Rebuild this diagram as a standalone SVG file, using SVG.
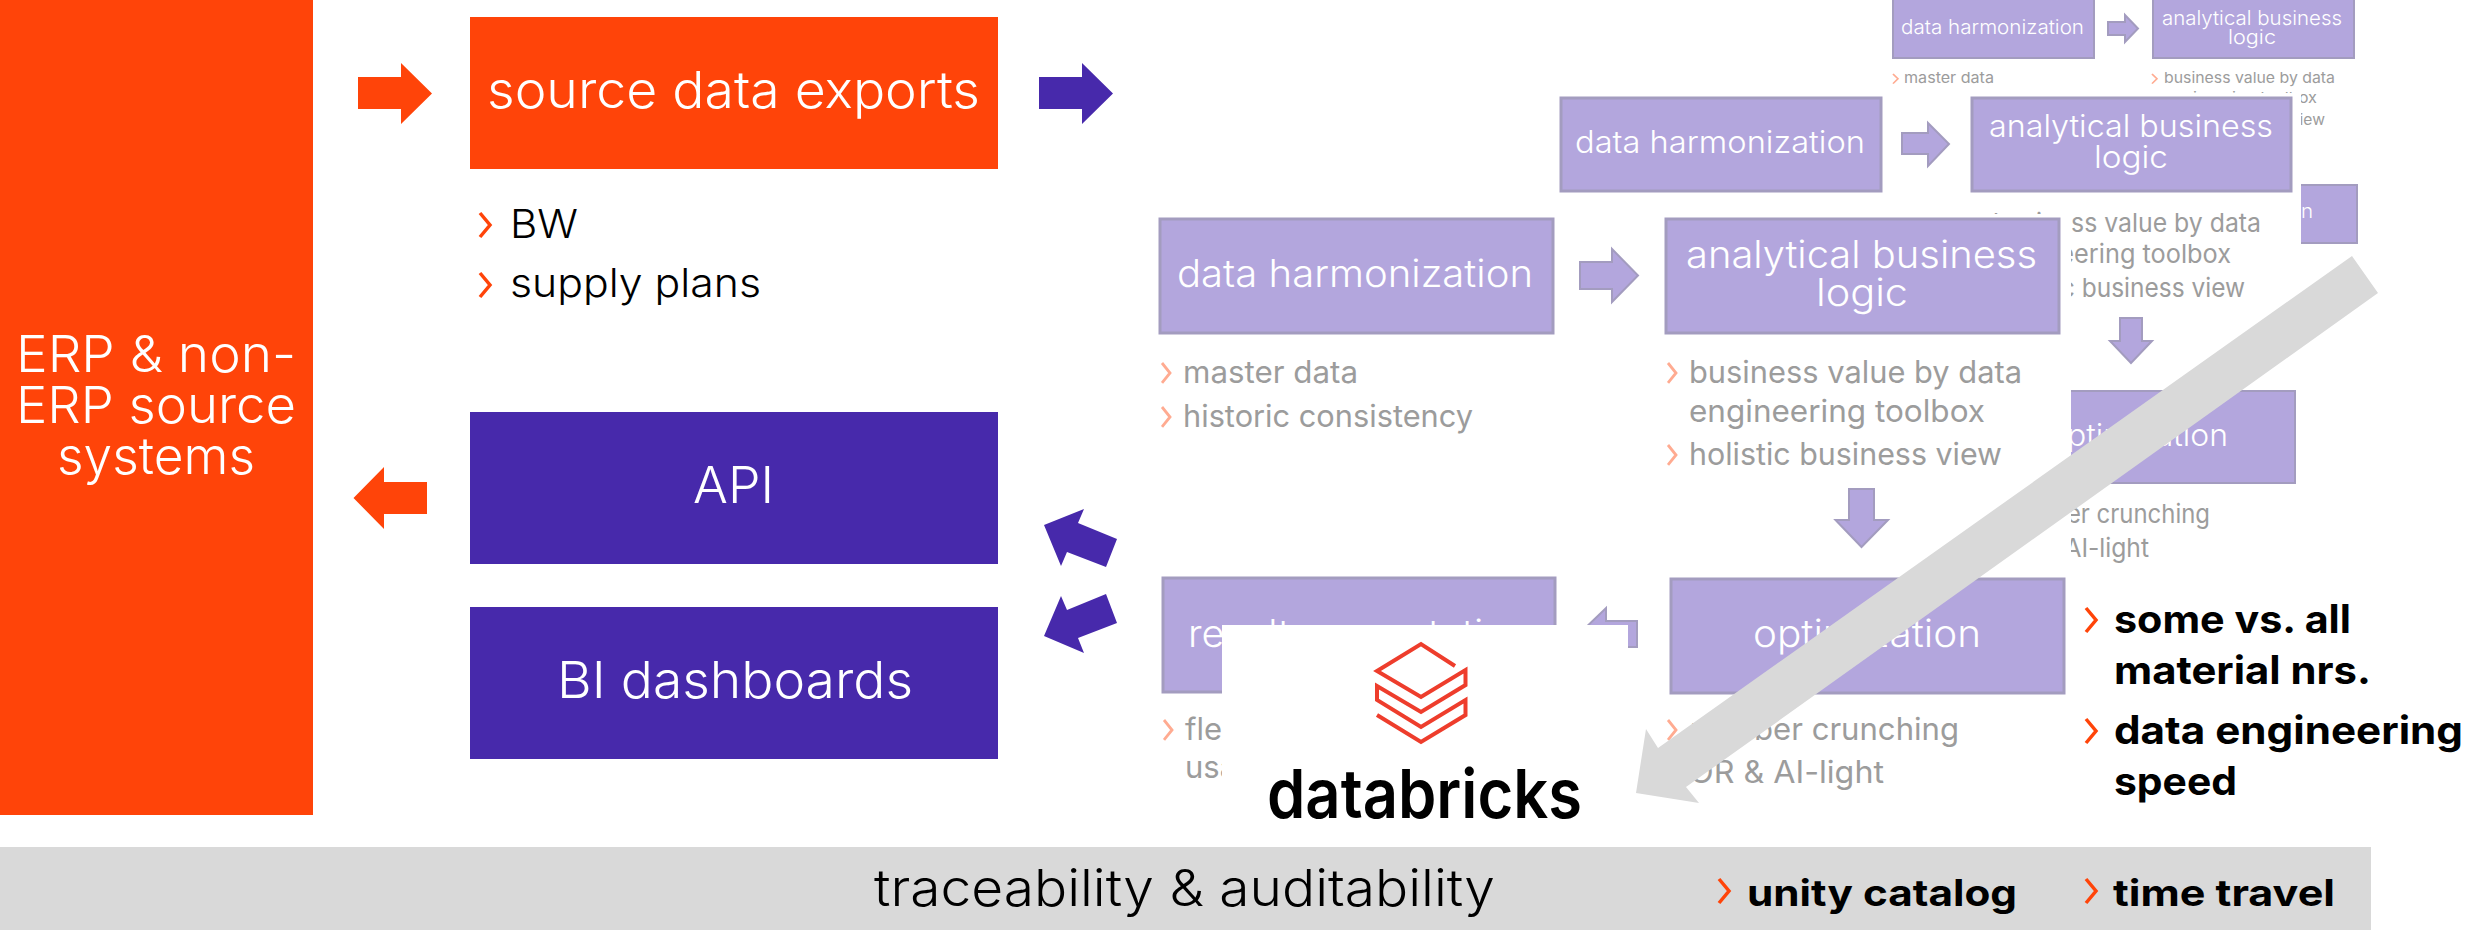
<svg xmlns="http://www.w3.org/2000/svg" width="2468" height="930" viewBox="0 0 2468 930">
<style>
text{font-family:Inter,"Noto Sans",sans-serif;font-weight:300;}
.w{fill:#fff}.k{fill:#000}.g{fill:#9c9c9c;font-weight:400}
.b{fill:#000;font-weight:700}
.s48{font-size:51px}.s38{font-size:40px}.s36{font-size:38px}.s30{font-size:31px}.s19{font-size:20px}.s15{font-size:15px}.s26{font-size:26px}.s37{font-size:37px}.s39{font-size:39px}
.box{fill:#b3a6dd;stroke:#a39cbf;stroke-width:3}
.boxs{fill:#b3a6dd;stroke:#a39cbf;stroke-width:2}
.or{fill:#ff4409}.pu{fill:#4729ab}.gr{fill:#d9d9d9}.mask{fill:#fff}
.chev{fill:none;stroke:#ff4409;stroke-width:3.500}
.fade{fill:none;stroke:#ffab91;stroke-width:3.500}
</style>
<defs><path id="c" d="M0,0L10,12L0,24"/></defs>
<rect width="2468" height="930" fill="#fff"/>

<g id="band"><rect class="gr" x="0" y="847" width="2371" height="83"/>
<text class="k s48" x="874" y="906" textLength="621" lengthAdjust="spacingAndGlyphs">traceability &amp; auditability</text>
<use href="#c" class="chev" x="1719" y="879"/><text class="b s37" x="1747" y="906" textLength="270" lengthAdjust="spacingAndGlyphs">unity catalog</text>
<use href="#c" class="chev" x="2086" y="879"/><text class="b s37" x="2113" y="906" textLength="222" lengthAdjust="spacingAndGlyphs">time travel</text></g>

<g id="erp"><rect class="or" x="0" y="0" width="313" height="815"/>
<text class="w s48" x="16" y="372" textLength="280" lengthAdjust="spacingAndGlyphs">ERP &amp; non-</text>
<text class="w s48" x="16" y="423" textLength="280" lengthAdjust="spacingAndGlyphs">ERP source</text>
<text class="w s48" x="57" y="474" textLength="198" lengthAdjust="spacingAndGlyphs">systems</text></g>

<g id="source"><rect class="or" x="470" y="17" width="528" height="152"/>
<text class="w s48" x="487" y="108" textLength="493" lengthAdjust="spacingAndGlyphs">source data exports</text>
<use href="#c" class="chev" x="480" y="213"/><text class="k s38" x="510" y="238" textLength="68" lengthAdjust="spacingAndGlyphs">BW</text>
<use href="#c" class="chev" x="480" y="273"/><text class="k s38" x="510" y="297" textLength="251" lengthAdjust="spacingAndGlyphs">supply plans</text></g>

<g id="api"><rect class="pu" x="470" y="412" width="528" height="152"/>
<text class="w s48" x="693" y="503" textLength="81" lengthAdjust="spacingAndGlyphs">API</text></g>
<g id="bi"><rect class="pu" x="470" y="607" width="528" height="152"/>
<text class="w s48" x="557" y="698" textLength="356" lengthAdjust="spacingAndGlyphs">BI dashboards</text></g>

<g id="layer-back">
<rect class="boxs" x="1893" y="-3" width="201" height="61"/>
<text class="w s19" x="1901" y="34" textLength="183" lengthAdjust="spacingAndGlyphs">data harmonization</text>
<polygon class="boxs" points="2108,22 2125,22 2125,15 2138,28.500 2125,42 2125,35 2108,35"/>
<rect class="boxs" x="2153" y="-3" width="201" height="61"/>
<text class="w s19" x="2162" y="25" textLength="180" lengthAdjust="spacingAndGlyphs">analytical business</text>
<text class="w s19" x="2228" y="44" textLength="48" lengthAdjust="spacingAndGlyphs">logic</text>
<use href="#c" class="fade" transform="translate(1893,74) scale(.5,.4)"/><text class="g s15" x="1904" y="83" textLength="90" lengthAdjust="spacingAndGlyphs">master data</text>
<use href="#c" class="fade" transform="translate(2152,74) scale(.5,.4)"/><text class="g s15" x="2164" y="83" textLength="171" lengthAdjust="spacingAndGlyphs">business value by data</text>
<text class="g s15" x="2164" y="103" textLength="153" lengthAdjust="spacingAndGlyphs">engineering toolbox</text>
<text class="g s15" x="2164" y="125" textLength="161" lengthAdjust="spacingAndGlyphs">holistic business view</text>
<rect class="boxs" x="2160" y="185" width="197" height="58"/>
<text class="w s19" x="2197" y="218" textLength="116" lengthAdjust="spacingAndGlyphs">optimization</text>
</g>
<rect class="mask" x="1540" y="93" width="761" height="501"/>

<g id="layer-mid">
<rect class="box" x="1561" y="98" width="320" height="93"/>
<text class="w s30" x="1575" y="153" textLength="290" lengthAdjust="spacingAndGlyphs">data harmonization</text>
<polygon class="boxs" points="1902,133 1928,133 1928,123 1949,144 1928,166 1928,154 1902,154"/>
<rect class="box" x="1972" y="98" width="319" height="93"/>
<text class="w s30" x="1989" y="137" textLength="284" lengthAdjust="spacingAndGlyphs">analytical business</text>
<text class="w s30" x="2094" y="168" textLength="74" lengthAdjust="spacingAndGlyphs">logic</text>
<text class="g s26" x="1993" y="232" textLength="268" lengthAdjust="spacingAndGlyphs">business value by data</text>
<text class="g s26" x="1993" y="263" textLength="238" lengthAdjust="spacingAndGlyphs">engineering toolbox</text>
<text class="g s26" x="1993" y="297" textLength="252" lengthAdjust="spacingAndGlyphs">holistic business view</text>
<polygon class="boxs" points="2120,318 2142,318 2142,341 2152,341 2131,363 2110,341 2120,341"/>
<rect class="boxs" x="1976" y="391" width="319" height="92"/>
<text class="w s30" x="2048" y="446" textLength="180" lengthAdjust="spacingAndGlyphs">optimization</text>
<text class="g s26" x="2003" y="523" textLength="207" lengthAdjust="spacingAndGlyphs">number crunching</text>
<text class="g s26" x="2000" y="557" textLength="149" lengthAdjust="spacingAndGlyphs">OR &amp; AI-light</text>
</g>
<rect class="mask" x="1140" y="214" width="931" height="627"/>

<g id="layer-front">
<g id="harmonization"><rect class="box" x="1160" y="219" width="393" height="114"/>
<text class="w s36" x="1177" y="287" textLength="356" lengthAdjust="spacingAndGlyphs">data harmonization</text>
<use href="#c" class="fade" transform="translate(1162,363) scale(.8,.83)"/><text class="g s30" x="1183" y="383" textLength="175" lengthAdjust="spacingAndGlyphs">master data</text>
<use href="#c" class="fade" transform="translate(1162,407) scale(.8,.83)"/><text class="g s30" x="1183" y="427" textLength="290" lengthAdjust="spacingAndGlyphs">historic consistency</text></g>
<polygon class="boxs" points="1580,262 1612,262 1612,249 1638,275.500 1612,302 1612,289 1580,289"/>
<g id="analytical"><rect class="box" x="1666" y="219" width="393" height="114"/>
<text class="w s36" x="1686" y="268" textLength="351" lengthAdjust="spacingAndGlyphs">analytical business</text>
<text class="w s36" x="1816" y="306" textLength="92" lengthAdjust="spacingAndGlyphs">logic</text>
<use href="#c" class="fade" transform="translate(1668,363) scale(.8,.83)"/><text class="g s30" x="1689" y="383" textLength="333" lengthAdjust="spacingAndGlyphs">business value by data</text>
<text class="g s30" x="1689" y="422" textLength="296" lengthAdjust="spacingAndGlyphs">engineering toolbox</text>
<use href="#c" class="fade" transform="translate(1668,445) scale(.8,.83)"/><text class="g s30" x="1689" y="465" textLength="313" lengthAdjust="spacingAndGlyphs">holistic business view</text></g>
<polygon class="boxs" points="1849,489 1874,489 1874,520 1888,520 1861.500,547 1835.500,520 1849,520"/>
<g id="optimization"><rect class="box" x="1671" y="579" width="393" height="114"/>
<text class="w s36" x="1753" y="647" textLength="228" lengthAdjust="spacingAndGlyphs">optimization</text>
<use href="#c" class="fade" transform="translate(1668,720) scale(.8,.83)"/><text class="g s30" x="1690" y="740" textLength="269" lengthAdjust="spacingAndGlyphs">number crunching</text>
<text class="g s30" x="1689" y="783" textLength="195" lengthAdjust="spacingAndGlyphs">OR &amp; AI-light</text></g>
<polygon class="boxs" points="1637,621 1606,621 1606,608 1579,634 1606,660 1606,647 1637,647"/>
<g id="result"><rect class="box" x="1163" y="578" width="392" height="114"/>
<text class="w s36" x="1188" y="647" textLength="342" lengthAdjust="spacingAndGlyphs">result presentation</text>
<use href="#c" class="fade" transform="translate(1164,720) scale(.8,.83)"/><text class="g s30" x="1185" y="740">flexible</text>
<text class="g s30" x="1185" y="778">usage</text></g>
</g>

<g id="databricks"><rect class="mask" x="1222" y="625" width="406" height="212"/>
<path fill="none" stroke="#ee3d2c" stroke-width="4" d="M1455,666L1421,644L1377,671L1421,697L1465.500,670V685L1421,712L1377,686V700L1421,727L1465.500,700V715L1421,742L1377,715"/>
<text x="1267" y="818" style="font-size:68px;font-weight:600;fill:#000" textLength="315" lengthAdjust="spacingAndGlyphs">databricks</text></g>

<g id="connectors">
<polygon class="or" points="358,77 401,77 401,63 432,93.500 401,124 401,109 358,109"/>
<polygon class="pu" points="1039,77 1082,77 1082,63 1113,93.500 1082,124 1082,109 1039,109"/>
<polygon class="or" points="427,482 384,482 384,467 353.500,498 384,529 384,514 427,514"/>
<polygon class="pu" points="1044,525 1084,509 1078,523 1117,539 1106,567 1067,552 1061,566"/>
<polygon class="pu" points="1044,636 1084,653 1078,638 1117,623 1106,594 1067,610 1061,596"/>
<polygon class="gr" points="2352,256 2378,293 1686,787 1699,803 1636,793 1646,729 1658,748"/>
</g>

<g id="notes">
<use href="#c" class="chev" x="2086" y="608"/><text class="b s39" x="2114" y="633" textLength="237" lengthAdjust="spacingAndGlyphs">some vs. all</text>
<text class="b s39" x="2114" y="684" textLength="257" lengthAdjust="spacingAndGlyphs">material nrs.</text>
<use href="#c" class="chev" x="2086" y="719"/><text class="b s39" x="2114" y="744" textLength="349" lengthAdjust="spacingAndGlyphs">data engineering</text>
<text class="b s39" x="2114" y="795" textLength="123" lengthAdjust="spacingAndGlyphs">speed</text>
</g>
</svg>
